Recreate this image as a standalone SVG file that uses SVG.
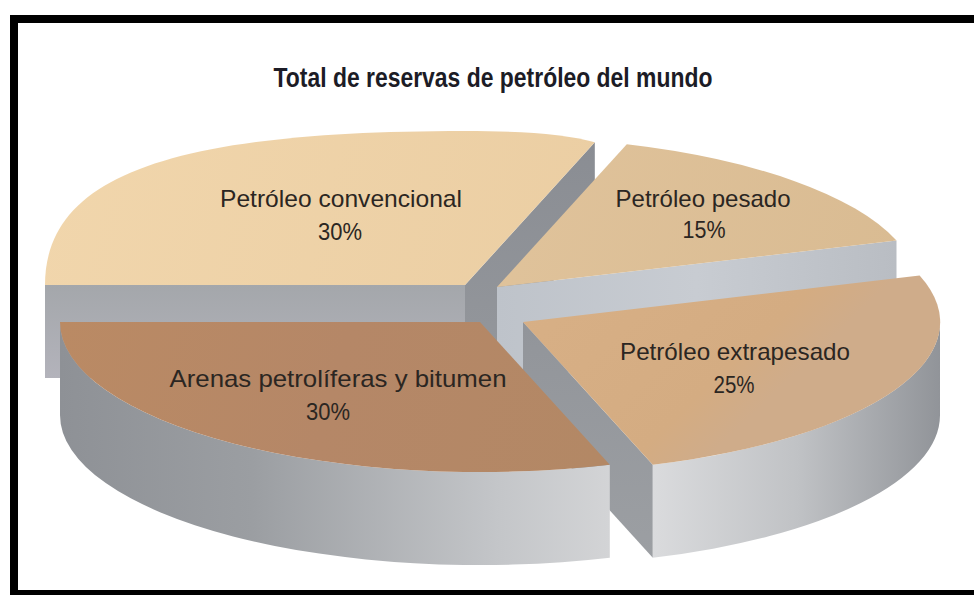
<svg xmlns="http://www.w3.org/2000/svg" width="974" height="595" viewBox="0 0 974 595">
<defs>
<style>
.lbl{font-family:"Liberation Sans",Arial,sans-serif;font-size:24px;fill:#2b2622;text-anchor:middle}
.ttl{font-family:"Liberation Sans",Arial,sans-serif;font-size:27px;font-weight:bold;fill:#1c1c26;text-anchor:middle}
.frame{fill:#000}
</style>
<linearGradient id="topConv" gradientUnits="userSpaceOnUse" x1="45" y1="140" x2="595" y2="285">
<stop offset="0" stop-color="#F1D6AC"/><stop offset="1" stop-color="#EBCEA3"/>
</linearGradient>
<linearGradient id="topPes" gradientUnits="userSpaceOnUse" x1="500" y1="145" x2="900" y2="285">
<stop offset="0" stop-color="#E0C39B"/><stop offset="1" stop-color="#D9BB92"/>
</linearGradient>
<linearGradient id="topExt" gradientUnits="userSpaceOnUse" x1="523" y1="280" x2="700" y2="465">
<stop offset="0" stop-color="#D8B086"/><stop offset="0.8" stop-color="#D4AC82"/><stop offset="1" stop-color="#CFAC8A"/>
</linearGradient>
<linearGradient id="topAre" gradientUnits="userSpaceOnUse" x1="60" y1="322" x2="600" y2="470">
<stop offset="0" stop-color="#BA8A64"/><stop offset="0.5" stop-color="#B58767"/><stop offset="1" stop-color="#B38865"/>
</linearGradient>
<linearGradient id="sideAre" gradientUnits="userSpaceOnUse" x1="60" y1="0" x2="610" y2="0">
<stop offset="0" stop-color="#8E9196"/><stop offset="0.35" stop-color="#9B9EA2"/><stop offset="0.8" stop-color="#C4C6C9"/><stop offset="1" stop-color="#D3D4D6"/>
</linearGradient>
<linearGradient id="sideExt" gradientUnits="userSpaceOnUse" x1="653" y1="0" x2="943" y2="0">
<stop offset="0" stop-color="#DADBDD"/><stop offset="0.5" stop-color="#C0C2C5"/><stop offset="1" stop-color="#909398"/>
</linearGradient>
<linearGradient id="facePes" gradientUnits="userSpaceOnUse" x1="497" y1="0" x2="896" y2="0">
<stop offset="0" stop-color="#BEC3CA"/><stop offset="0.5" stop-color="#C8CCD2"/><stop offset="1" stop-color="#B9BDC3"/>
</linearGradient>
<linearGradient id="faceConv" gradientUnits="userSpaceOnUse" x1="0" y1="285" x2="0" y2="378">
<stop offset="0" stop-color="#A4A7AB"/><stop offset="1" stop-color="#B3B3BB"/>
</linearGradient>
<linearGradient id="darkFace" gradientUnits="userSpaceOnUse" x1="0" y1="140" x2="0" y2="560">
<stop offset="0" stop-color="#8A8D93"/><stop offset="1" stop-color="#9C9FA3"/>
</linearGradient>
</defs>
<rect width="974" height="595" fill="#FFFFFF"/>

<g id="frame">
<rect class="frame" x="10" y="15" width="964" height="8"/>
<rect class="frame" x="10" y="15" width="8" height="580"/>
<rect class="frame" x="10" y="590" width="964" height="5"/>
</g>

<text id="title" class="ttl" x="493" y="87" textLength="439" lengthAdjust="spacingAndGlyphs">Total de reservas de petróleo del mundo</text>

<g id="slice-convencional">
<rect x="45" y="285" width="420" height="93" fill="url(#faceConv)"/>
<polygon points="465,285 594.8,142.3 594.8,235.3 465,378" fill="url(#darkFace)"/>
<path d="M465,285 L45,285 C45,176 171,131 465,131 C522,131 566,134 594.8,142.3 Z" fill="url(#topConv)"/>
</g>

<g id="slice-pesado">
<polygon points="497,287 896.5,240.6 896.5,333.6 497,380" fill="url(#facePes)"/>
<path d="M497,287 L626.8,144.3 A420,150 0 0,1 896.5,240.6 Z" fill="url(#topPes)"/>
</g>

<g id="slice-extrapesado">
<polygon points="523,322 652.8,464.7 652.8,557.7 523,415" fill="url(#darkFace)"/>
<path d="M940,322 A417,150 0 0,1 652.8,464.7 L652.8,557.7 A417,150 0 0,0 940,415 Z" fill="url(#sideExt)"/>
<path d="M523,322 L919.6,275.6 A417,150 0 0,1 652.8,464.7 Z" fill="url(#topExt)"/>
</g>

<g id="slice-arenas">
<path d="M609.8,464.7 A420,150 0 0,1 60,322 L60,415 A420,150 0 0,0 609.8,557.7 Z" fill="url(#sideAre)"/>
<path d="M480,322 L609.8,464.7 A420,150 0 0,1 60,322 Z" fill="url(#topAre)"/>
</g>

<g id="labels">
<text class="lbl" x="341" y="207" textLength="242" lengthAdjust="spacingAndGlyphs">Petróleo convencional</text>
<text class="lbl" x="340" y="240" textLength="44" lengthAdjust="spacingAndGlyphs">30%</text>
<text class="lbl" x="703" y="207" textLength="175" lengthAdjust="spacingAndGlyphs">Petróleo pesado</text>
<text class="lbl" x="704" y="238" textLength="43" lengthAdjust="spacingAndGlyphs">15%</text>
<text class="lbl" x="735" y="360" textLength="230" lengthAdjust="spacingAndGlyphs">Petróleo extrapesado</text>
<text class="lbl" x="734" y="393" textLength="41" lengthAdjust="spacingAndGlyphs">25%</text>
<text class="lbl" x="338" y="387" textLength="337" lengthAdjust="spacingAndGlyphs">Arenas petrolíferas y bitumen</text>
<text class="lbl" x="328" y="420" textLength="44" lengthAdjust="spacingAndGlyphs">30%</text>
</g>
</svg>
